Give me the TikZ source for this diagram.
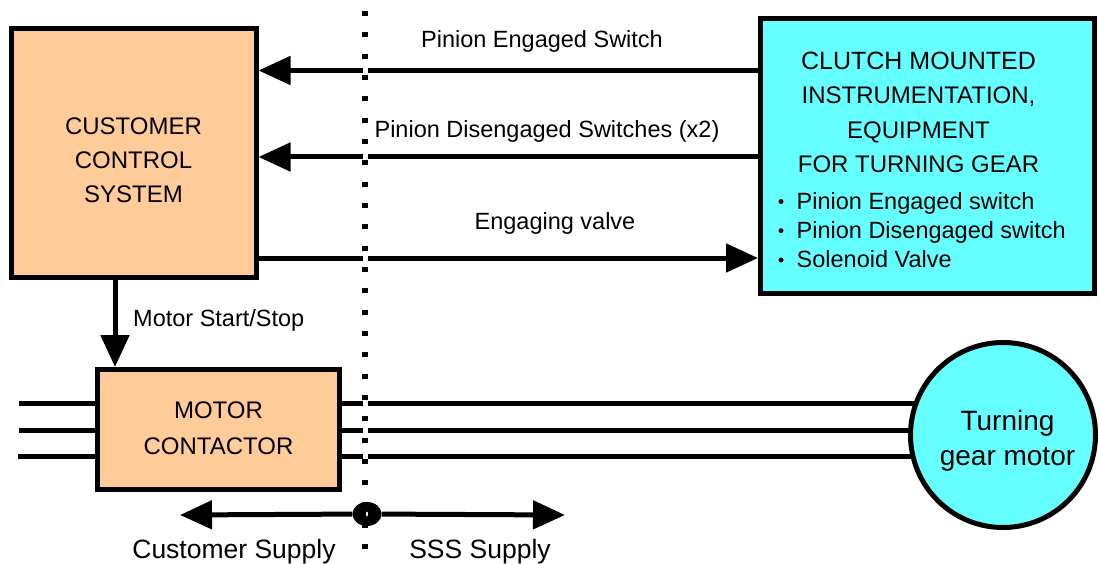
\documentclass[tikz,border=0pt]{standalone}
\usepackage{fontspec}
\setmainfont{Liberation Sans}
\usetikzlibrary{arrows.meta,shapes.geometric}
\definecolor{peach}{RGB}{255,204,153}
\definecolor{aqua}{RGB}{102,255,255}
\begin{document}
\begin{tikzpicture}[x=1pt,y=-1pt,
  box/.style={draw=black,line width=5pt,inner sep=0pt},
  lbl/.style={font=\fontsize{23.5}{28}\selectfont,anchor=base,inner sep=0pt},
  sup/.style={font=\fontsize{26.5}{30}\selectfont,anchor=base,inner sep=0pt},
  caps/.style={font=\fontsize{24}{34}\selectfont,anchor=base,inner sep=0pt},
  big/.style={font=\fontsize{28}{34}\selectfont,anchor=base,inner sep=0pt},
  conn/.style={line width=5pt,-{Triangle[length=32pt,width=28pt]}},
  wire/.style={line width=5pt},
]
\useasboundingbox (0,0) rectangle (1099,564);

% boxes
\node[box,fill=peach,minimum width=245pt,minimum height=248pt] (ccs) at (133.5,153) {};
\node[box,fill=aqua,minimum width=334pt,minimum height=274.5pt] (clutch) at (927.5,156.25) {};
\node[box,fill=peach,minimum width=242pt,minimum height=120pt] (mc) at (218.5,429.5) {};

% level coordinates
\coordinate (yA) at (0,70.5);
\coordinate (yB) at (0,157);
\coordinate (yC) at (0,258);
\coordinate (xV) at (115,0);
\coordinate (w1) at (19,403.5);
\coordinate (w2) at (19,430.5);
\coordinate (w3) at (18,456.5);

% signal arrows
\draw[conn] (clutch.west |- yA) -- (ccs.east |- yA);
\draw[conn] (clutch.west |- yB) -- (ccs.east |- yB);
\draw[conn] (ccs.east |- yC) -- (clutch.west |- yC);
\draw[conn] (ccs.south -| xV) -- (mc.north -| xV);

% supply wires
\draw[wire] (w1) -- (mc.west |- w1);
\draw[wire] (w2) -- (mc.west |- w2);
\draw[wire] (w3) -- (mc.west |- w3);
\draw[wire] (mc.east |- w1) -- (1003,403.5);
\draw[wire] (mc.east |- w2) -- (1003,430.5);
\draw[wire] (mc.east |- w3) -- (1003,456.5);

% motor
\node[circle,draw=black,line width=5pt,fill=aqua,minimum size=185pt,inner sep=0pt] (motor) at (1003,435) {};

% boundary line: white gaps then dots
\coordinate (dtop) at (365,0);
\coordinate (dbot) at (365,564);
\draw[white,line width=5pt] (dtop) -- (dbot);
\draw[line width=5.5pt,dash pattern=on 5pt off 16.33pt] (365,11) -- (dbot);

% supply arrows
\node[ellipse,fill=black,minimum width=29pt,minimum height=24pt,inner sep=0pt] (split) at (367,514) {};
\coordinate (cs) at (180,515);
\coordinate (ss) at (565,515);
\draw[conn] (split) -- (cs);
\draw[conn] (split) -- (ss);
\fill[white] (split.center) ellipse (1pt and 2.5pt);

% texts
\node[caps] (t1) at (133.5,134.5) {CUSTOMER};
\node[caps] (t2) at (133.5,168.5) {CONTROL};
\node[caps] (t3) at (133.5,202.5) {SYSTEM};

\node[caps] (c1) at (918.5,69.5) {\fontsize{25}{34}\selectfont CLUTCH MOUNTED};
\node[caps] (c2) at (918.5,104) {INSTRUMENTATION,};
\node[caps] (c3) at (918.5,138.5) {EQUIPMENT};
\node[caps] (c4) at (918.5,173) {FOR TURNING GEAR};

\node[lbl,anchor=base west] (b1) at (796.5,209.3) {Pinion Engaged switch};
\node[lbl,anchor=base west] (b2) at (796.5,238.5) {Pinion Disengaged switch};
\node[lbl,anchor=base west] (b3) at (796.5,267.7) {Solenoid Valve};
\fill (781,201.5) circle (2.5pt);
\fill (781,230.7) circle (2.5pt);
\fill (781,260) circle (2.5pt);

\node[caps] (m1) at (218.5,418.3) {MOTOR};
\node[caps] (m2) at (218.5,454.3) {CONTACTOR};

\node[big] (g1) at (1007.5,430) {Turning};
\node[big] (g2) at (1007.5,465) {gear motor};

\node[lbl] (l1) at (542,48) {Pinion Engaged Switch};
\node[lbl] (l2) at (547,138) {Pinion Disengaged Switches (x2)};
\node[lbl] (l3) at (555,229) {Engaging valve};
\node[lbl,anchor=base west] (l4) at (133,326) {Motor Start/Stop};
\node[sup] (l5) at (234,558) {Customer Supply};
\node[sup] (l6) at (480,558) {SSS Supply};
\end{tikzpicture}
\end{document}
